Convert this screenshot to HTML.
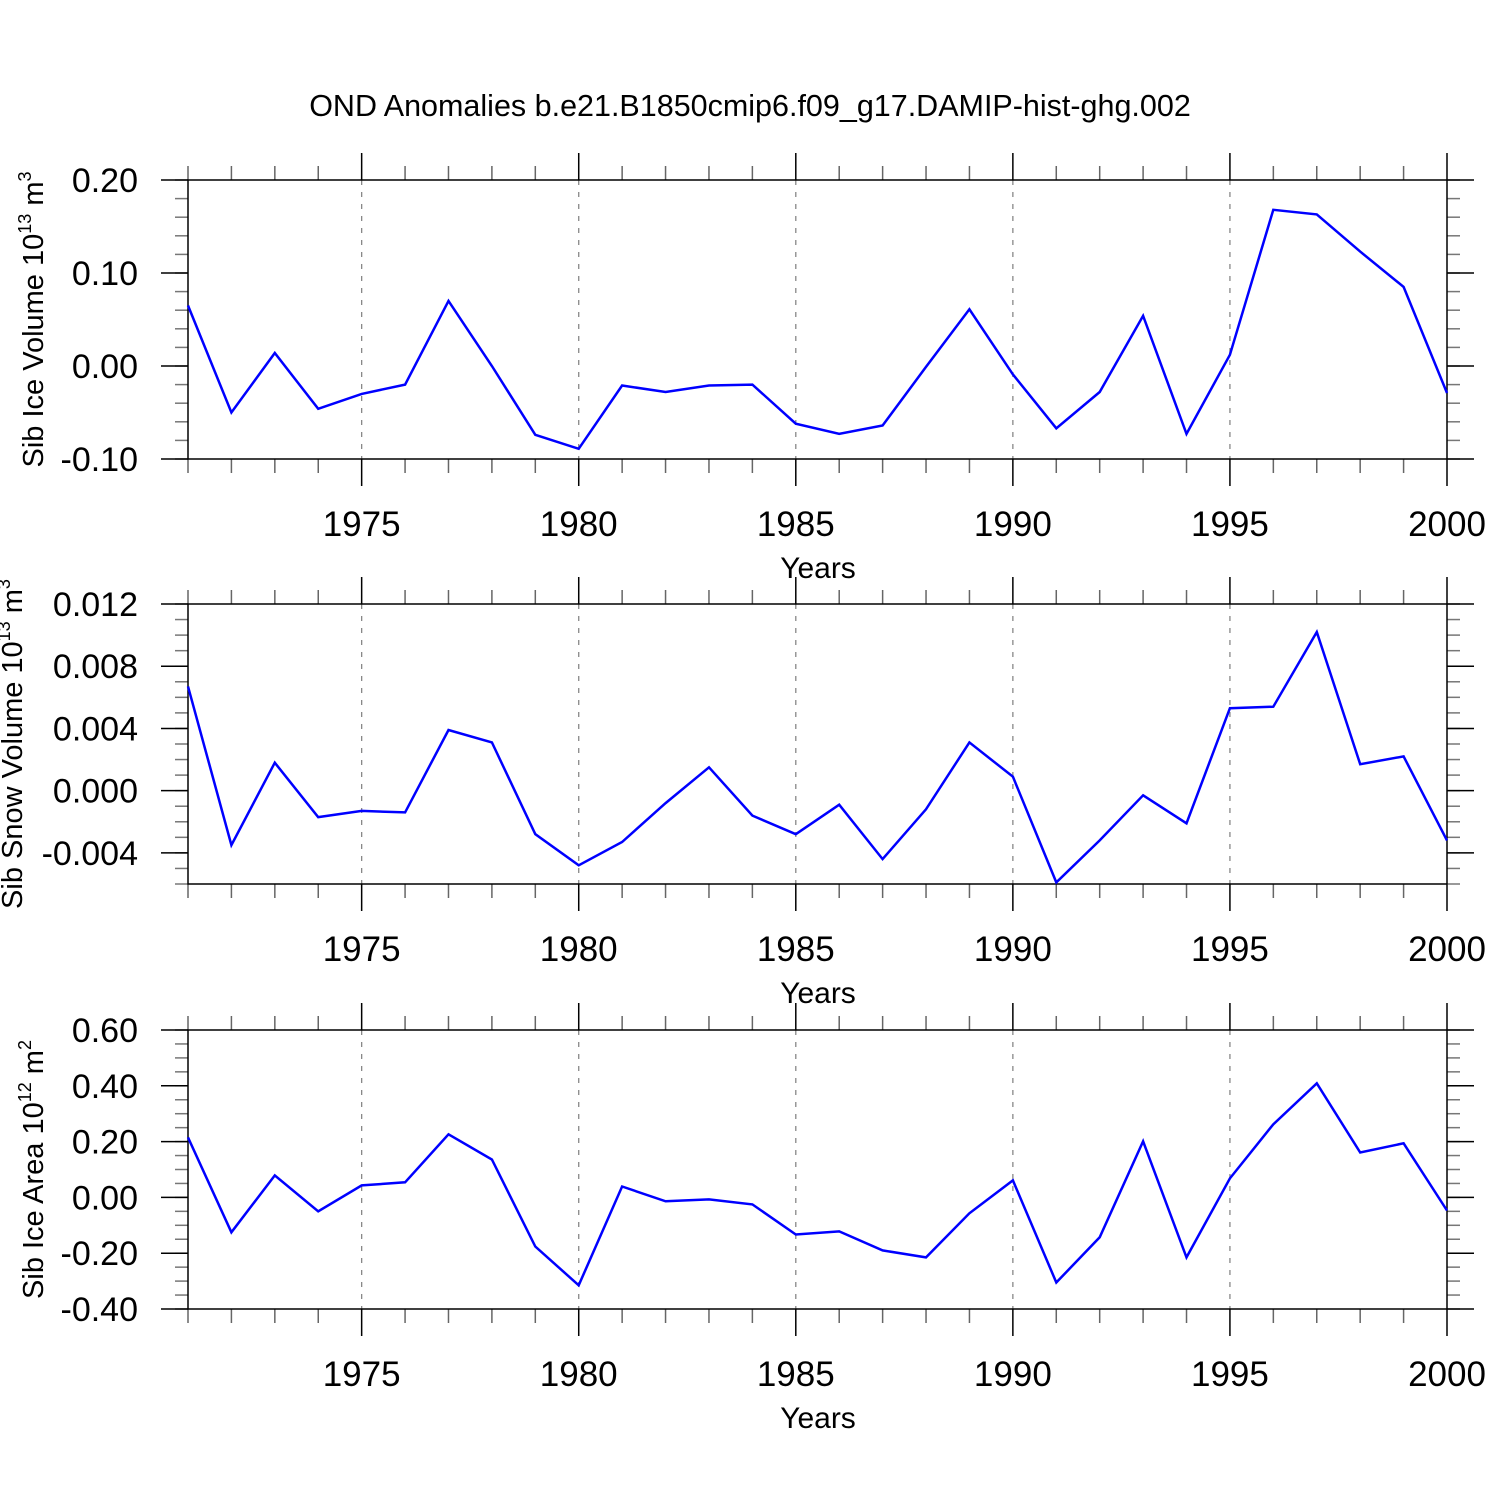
<!DOCTYPE html>
<html><head><meta charset="utf-8"><style>
body{margin:0;background:#fff}
svg{display:block;font-family:"Liberation Sans",sans-serif}
</style></head><body>
<svg id="chart" width="1500" height="1500" viewBox="0 0 1500 1500">
<rect width="1500" height="1500" fill="#fff"/>
<text x="750" y="116" font-size="30.5" text-anchor="middle">OND Anomalies b.e21.B1850cmip6.f09_g17.DAMIP-hist-ghg.002</text>
</svg>
<script>
const years = [];
for (let y = 1971; y <= 2000; y++) years.push(y);
const iceVolume = [0.065,-0.050,0.014,-0.046,-0.030,-0.020,0.070,0.000,-0.074,-0.089,-0.021,-0.028,-0.021,-0.020,-0.062,-0.073,-0.064,-0.001,0.061,-0.009,-0.067,-0.028,0.054,-0.073,0.012,0.168,0.163,0.123,0.085,-0.029];
const snowVolume = [0.0067,-0.0035,0.0018,-0.0017,-0.0013,-0.0014,0.0039,0.0031,-0.0028,-0.0048,-0.0033,-0.0008,0.0015,-0.0016,-0.0028,-0.0009,-0.0044,-0.0012,0.0031,0.0009,-0.0059,-0.0032,-0.0003,-0.0021,0.0053,0.0054,0.0102,0.0017,0.0022,-0.0032];
const iceArea = [0.215,-0.125,0.079,-0.050,0.043,0.054,0.226,0.136,-0.176,-0.315,0.039,-0.014,-0.007,-0.025,-0.133,-0.122,-0.190,-0.215,-0.057,0.061,-0.305,-0.143,0.201,-0.215,0.068,0.262,0.409,0.161,0.194,-0.047];
const xTickLabels = ["1975","1980","1985","1990","1995","2000"];
const iceVolTicks = ["0.20","0.10","0.00","-0.10"];
const snowTicks = ["0.012","0.008","0.004","0.000","-0.004"];
const areaTicks = ["0.60","0.40","0.20","0.00","-0.20","-0.40"];

const svg = document.getElementById('chart');
const NS = 'http://www.w3.org/2000/svg';
function mk(tag, attrs, parent) {
  const e = document.createElementNS(NS, tag);
  for (const k in attrs) e.setAttribute(k, attrs[k]);
  (parent || svg).appendChild(e);
  return e;
}
const X0 = 188, X1 = 1447;
const xs = y => X0 + (y - 1971) / (2000 - 1971) * (X1 - X0);

const panels = [
  {name:'ice-volume', top:180, bottom:459, ymax:0.20, ymin:-0.10, major:0.10, minor:0.02, ticks:iceVolTicks, data:iceVolume, titleX:33, titleMain:'Sib Ice Volume 10', sup:'13', unit:' m', sup2:'3'},
  {name:'snow-volume', top:604, bottom:884, ymax:0.012, ymin:-0.006, major:0.004, minor:0.001, ticks:snowTicks, data:snowVolume, titleX:12, titleMain:'Sib Snow Volume 10', sup:'13', unit:' m', sup2:'3'},
  {name:'ice-area', top:1030, bottom:1309, ymax:0.60, ymin:-0.40, major:0.20, minor:0.05, ticks:areaTicks, data:iceArea, titleX:33, titleMain:'Sib Ice Area 10', sup:'12', unit:' m', sup2:'2'}
];

panels.forEach(p => {
  const g = mk('g', {});
  
  
  const ys = v => p.top + (p.ymax - v) / (p.ymax - p.ymin) * (p.bottom - p.top);
  [1975,1980,1985,1990,1995].forEach(yr => {
    const l = mk('line', {x1:xs(yr), x2:xs(yr), y1:p.top, y2:p.bottom, stroke:'#888', 'stroke-width':1.3, 'stroke-dasharray':'5,7'}, g);
    
    
  });
  years.forEach(yr => {
    const maj = yr % 5 === 0;
    const len = maj ? 27 : 14;
    const c = maj ? '#000' : '#666';
    mk('line', {x1:xs(yr), x2:xs(yr), y1:p.top, y2:p.top - len, stroke:c, 'stroke-width':1.5}, g);
    mk('line', {x1:xs(yr), x2:xs(yr), y1:p.bottom, y2:p.bottom + len, stroke:c, 'stroke-width':1.5}, g);
  });
  const nMin = Math.round((p.ymax - p.ymin) / p.minor);
  for (let i = 0; i <= nMin; i++) {
    const v = p.ymax - i * p.minor;
    const y = ys(v);
    mk('line', {x1:X0 - 13, x2:X0, y1:y, y2:y, stroke:'#777', 'stroke-width':1.5}, g);
    mk('line', {x1:X1, x2:X1 + 13, y1:y, y2:y, stroke:'#777', 'stroke-width':1.5}, g);
  }
  p.ticks.forEach(t => {
    const y = ys(parseFloat(t));
    mk('line', {x1:X0 - 27, x2:X0, y1:y, y2:y, stroke:'#000', 'stroke-width':1.5}, g);
    mk('line', {x1:X1, x2:X1 + 27, y1:y, y2:y, stroke:'#000', 'stroke-width':1.5}, g);
    const tx = mk('text', {x:138, y:y + 12, 'font-size':34, 'text-anchor':'end'}, g);
    
    
    tx.textContent = t;
  });
  const fr = mk('rect', {x:X0, y:p.top, width:X1 - X0, height:p.bottom - p.top, fill:'none', stroke:'#000', 'stroke-width':1.5}, g);
  
  
  xTickLabels.forEach(t => {
    const tx = mk('text', {x:xs(+t), y:p.bottom + 77, 'font-size':35, 'text-anchor':'middle'}, g);
    
    
    tx.textContent = t;
  });
  const xt = mk('text', {x:818, y:p.bottom + 119, 'font-size':30, 'text-anchor':'middle'}, g);
  
  
  xt.textContent = 'Years';
  const cy = (p.top + p.bottom) / 2;
  const yt = mk('text', {x:0, y:0, 'font-size':29, 'text-anchor':'middle', transform:`translate(${p.titleX + 10},${cy}) rotate(-90)`}, g);
  
  
  yt.innerHTML = p.titleMain + '<tspan dy="-12" font-size="18">' + p.sup + '</tspan><tspan dy="12">' + p.unit + '</tspan><tspan dy="-12" font-size="18">' + p.sup2 + '</tspan>';
  const pts = p.data.map((v, i) => xs(years[i]).toFixed(1) + ',' + ys(v).toFixed(1)).join(' ');
  const pl = mk('polyline', {points:pts, fill:'none', stroke:'#0000ff', 'stroke-width':2.5, 'stroke-linejoin':'miter'}, g);
  
  
});
</script>
</body></html>
